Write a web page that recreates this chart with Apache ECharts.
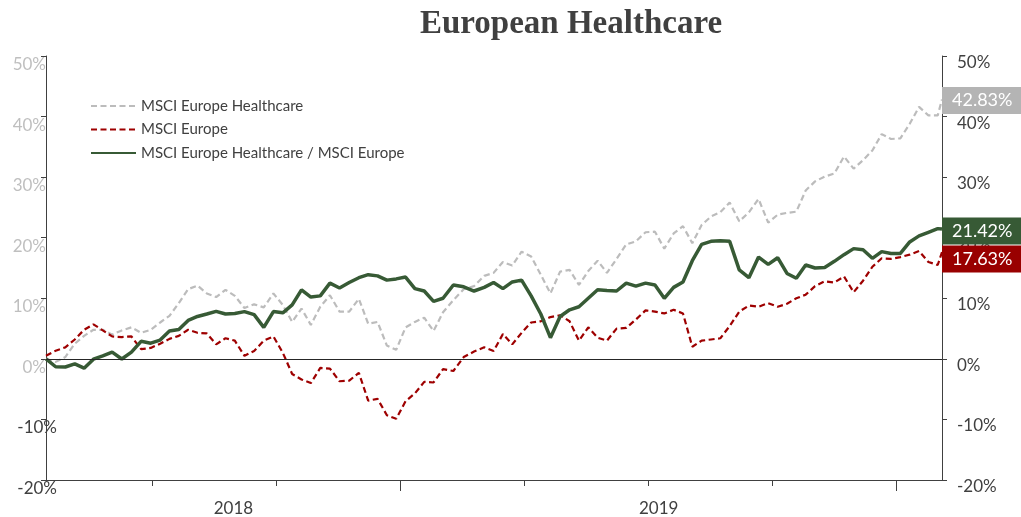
<!DOCTYPE html>
<html>
<head>
<meta charset="utf-8">
<title>European Healthcare</title>
<script src="https://cdn.jsdelivr.net/npm/echarts@6/dist/echarts.min.js"></script>
<style>
  html, body { margin: 0; padding: 0; background: #fff; }
  #chart { width: 1021px; height: 517px; }
</style>
</head>
<body>
<div id="chart"></div>
<script>
const dates = [
  '2018-04-14','2018-04-21','2018-04-28','2018-05-05','2018-05-12','2018-05-19','2018-05-26','2018-06-02','2018-06-09','2018-06-16',
  '2018-06-23','2018-06-30','2018-07-07','2018-07-14','2018-07-21','2018-07-28','2018-08-04','2018-08-11','2018-08-18','2018-08-25',
  '2018-09-01','2018-09-08','2018-09-15','2018-09-22','2018-09-29','2018-10-06','2018-10-13','2018-10-20','2018-10-27','2018-11-03',
  '2018-11-10','2018-11-17','2018-11-24','2018-12-01','2018-12-08','2018-12-15','2018-12-22','2018-12-29','2019-01-05','2019-01-12',
  '2019-01-19','2019-01-26','2019-02-02','2019-02-09','2019-02-16','2019-02-23','2019-03-02','2019-03-09','2019-03-16','2019-03-23',
  '2019-03-30','2019-04-06','2019-04-13','2019-04-20','2019-04-27','2019-05-04','2019-05-11','2019-05-18','2019-05-25','2019-06-01',
  '2019-06-08','2019-06-15','2019-06-22','2019-06-29','2019-07-06','2019-07-13','2019-07-20','2019-07-27','2019-08-03','2019-08-10',
  '2019-08-17','2019-08-24','2019-08-31','2019-09-07','2019-09-14','2019-09-21','2019-09-28','2019-10-05','2019-10-12','2019-10-19',
  '2019-10-26','2019-11-02','2019-11-09','2019-11-16','2019-11-23','2019-11-30','2019-12-07','2019-12-14','2019-12-21','2019-12-28',
  '2020-01-04','2020-01-11','2020-01-18','2020-01-25','2020-02-01','2020-02-04'
];

// MSCI Europe Healthcare (%)
const healthcare = [
  0.0, -0.5, 0.3, 2.5, 3.8, 4.8, 4.8, 4.0, 4.7, 5.2,
  4.3, 4.8, 6.0, 7.1, 9.2, 11.5, 12.1, 10.8, 10.2, 11.4,
  10.4, 8.4, 9.0, 8.5, 10.8, 8.9, 6.1, 8.3, 5.6, 8.6,
  10.5, 7.8, 7.8, 9.9, 5.8, 6.1, 2.2, 1.5, 5.2, 6.1,
  6.8, 4.6, 7.7, 9.7, 11.5, 12.0, 13.7, 14.2, 16.0, 15.4,
  17.7, 16.9, 13.9, 10.8, 14.4, 14.7, 12.2, 14.5, 16.2, 14.2,
  16.5, 18.9, 19.4, 20.9, 21.0, 18.2, 20.7, 21.9, 19.1, 22.1,
  23.5, 24.2, 25.8, 22.7, 24.2, 26.4, 22.5, 23.8, 24.1, 24.3,
  27.8, 29.3, 30.1, 30.6, 33.4, 31.4, 32.8, 34.4, 37.1, 36.3,
  36.4, 38.8, 41.6, 40.2, 40.2, 42.83
];

// MSCI Europe (%)
const europe = [
  0.5, 1.35, 1.9, 3.2, 4.8, 5.7, 4.7, 3.7, 3.6, 3.7,
  1.6, 1.8, 2.5, 3.3, 3.8, 4.8, 4.3, 4.2, 2.4, 3.4,
  3.0, 0.5, 1.3, 3.0, 3.7, 1.0, -2.5, -3.4, -4.0, -1.5,
  -1.6, -3.7, -3.6, -2.3, -6.9, -6.6, -9.3, -9.9, -7.0, -5.7,
  -3.8, -3.9, -1.7, -2.0, 0.3, 1.2, 1.9, 1.3, 4.1, 2.4,
  4.3, 6.0, 6.2, 6.9, 7.2, 6.2, 3.0, 5.2, 3.5, 3.0,
  5.0, 5.1, 6.5, 8.0, 7.8, 7.5, 8.1, 7.5, 2.0, 3.0,
  3.2, 3.4, 5.4, 7.8, 8.8, 8.6, 9.2, 8.6, 9.1, 10.0,
  10.6, 12.0, 12.8, 12.6, 13.6, 11.0, 12.9, 15.2, 16.6, 16.5,
  16.8, 17.2, 17.8, 16.0, 15.5, 17.63
];

// MSCI Europe Healthcare / MSCI Europe (%)
const relative = [
  0.0, -1.3, -1.35, -0.83, -1.54, -0.05, 0.5, 1.1, -0.03, 1.1,
  2.9, 2.59, 3.1, 4.6, 4.85, 6.35, 7.0, 7.4, 7.85, 7.4,
  7.5, 7.8, 7.3, 5.2, 7.81, 7.6, 8.9, 11.4, 10.2, 10.4,
  12.5, 11.7, 12.6, 13.4, 13.9, 13.7, 13.0, 13.2, 13.5, 11.6,
  11.2, 9.5, 10.0, 12.2, 11.9, 11.2, 11.8, 12.6, 11.6, 12.7,
  13.0, 10.4, 7.4, 3.5, 7.0, 8.1, 8.6, 10.0, 11.4, 11.3,
  11.2, 12.5, 12.0, 12.5, 12.2, 10.0, 11.8, 12.7, 16.2, 18.9,
  19.4, 19.5, 19.4, 14.7, 13.4, 16.8, 15.6, 16.7, 14.1, 13.3,
  15.5, 15.0, 15.1, 16.1, 17.2, 18.2, 18.0, 16.6, 17.7, 17.4,
  17.4, 19.3, 20.3, 20.9, 21.5, 21.42
];

const seriesNames = ['MSCI Europe Healthcare', 'MSCI Europe', 'MSCI Europe Healthcare / MSCI Europe'];
const quarterStarts = ['2018-07-01','2018-10-01','2019-01-01','2019-04-01','2019-07-01','2019-10-01','2020-01-01'];
const yearStarts = ['2019-01-01', '2020-01-01'];
const yearLabels = ['2018', '2019'];

const FONT = 'Lato';
const DARK = '#404040';
const GREY = '#bcbcbc';
const RED = '#9e0000';
const GREEN = '#375a35';

// date string -> fractional months since 2018-01
const toMonths = (s) => {
  const [y, m, d] = s.split('-').map(Number);
  const dim = new Date(y, m, 0).getDate();
  return (y - 2018) * 12 + (m - 1) + (d - 1) / dim;
};

const xMin = toMonths(dates[0]);
const xMax = toMonths(dates[dates.length - 1]);
const yearTicks = yearStarts.map(toMonths);
// year label sits in the middle of the visible part of that year
const yearLabelPos = [ (xMin + yearTicks[0]) / 2 + 0.25, (yearTicks[0] + yearTicks[1]) / 2 + 0.25 ];

const toPoints = (vals) => dates.map((d, i) => [toMonths(d), vals[i]]);

const endLabel = (bg, dy) => ({
  show: true,
  distance: 0,
  offset: [0, dy],
  formatter: (p) => p.value[1].toFixed(2) + '%',
  color: '#fff',
  fontFamily: FONT,
  fontSize: 18,
  backgroundColor: bg,
  padding: [5, 2, 4, 10],
  width: 67
});

const chart = echarts.init(document.getElementById('chart'));

const option = {
  animation: false,
  textStyle: { fontFamily: FONT },
  title: {
    text: 'European Healthcare',
    left: 566,
    top: 3,
    textAlign: 'center',
    textStyle: { fontFamily: 'Liberation Serif', fontWeight: 'bold', fontSize: 33, color: DARK }
  },
  legend: {
    orient: 'vertical',
    left: 90,
    top: 97,
    padding: 0,
    itemWidth: 45,
    itemHeight: 14,
    itemGap: 5.5,
    itemStyle: { opacity: 0 },
    textStyle: { fontFamily: FONT, fontSize: 15, color: DARK, lineHeight: 18 },
    data: seriesNames
  },
  grid: { left: 46, right: 79, top: 56, bottom: 37 },
  xAxis: [
    {
      type: 'value',
      min: xMin,
      max: xMax,
      position: 'bottom',
      splitLine: { show: false },
      axisLine: { onZero: false, lineStyle: { color: DARK, width: 1 } },
      axisTick: { show: true, length: 6, customValues: quarterStarts.map(toMonths), lineStyle: { color: DARK } },
      axisLabel: {
        customValues: yearLabelPos,
        formatter: (v) => {
          const i = yearLabelPos.findIndex((p) => Math.abs(p - v) < 1e-6);
          return i >= 0 ? yearLabels[i] : '';
        },
        color: DARK,
        fontFamily: FONT,
        fontSize: 17,
        margin: 20
      }
    },
    {
      type: 'value',
      min: xMin,
      max: xMax,
      position: 'bottom',
      splitLine: { show: false },
      axisLine: { show: false, onZero: false },
      axisTick: { show: true, length: 11, customValues: yearTicks, lineStyle: { color: DARK } },
      axisLabel: { show: false }
    }
  ],
  yAxis: [
    {
      type: 'value',
      position: 'left',
      min: -20,
      max: 50,
      interval: 10,
      splitLine: { show: false },
      axisLine: { show: true, lineStyle: { color: DARK, width: 1 } },
      axisTick: { show: true, length: 5, lineStyle: { color: DARK } },
      axisLabel: {
        margin: -11,
        verticalAlign: 'top',
        lineHeight: 17,
        formatter: (v) => (v < 0 ? '{n|' + v + '%}' : '{p|' + v + '%}'),
        rich: {
          p: { color: '#bfbfbf', fontFamily: FONT, fontSize: 17, lineHeight: 17, padding: [0, 11, 0, 0] },
          n: { color: DARK, fontFamily: FONT, fontSize: 17, lineHeight: 17 }
        }
      }
    },
    {
      type: 'value',
      position: 'right',
      min: -20,
      max: 50,
      interval: 10,
      splitLine: { show: false },
      axisLine: { show: true, lineStyle: { color: DARK, width: 1 } },
      axisTick: { show: true, length: 5, lineStyle: { color: DARK } },
      axisLabel: {
        margin: 15,
        verticalAlign: 'top',
        lineHeight: 13,
        formatter: '{value}%',
        color: DARK,
        fontFamily: FONT,
        fontSize: 17
      }
    }
  ],
  series: [
    {
      name: seriesNames[0],
      type: 'line',
      data: toPoints(healthcare),
      symbol: 'none',
      itemStyle: { color: GREY },
      lineStyle: { color: GREY, width: 2.2, type: [6, 3.5] },
      endLabel: endLabel('#b4b4b4', 1),
      markLine: {
        silent: true,
        symbol: 'none',
        label: { show: false },
        lineStyle: { color: '#262626', width: 1, type: 'solid' },
        data: [{ yAxis: 0 }]
      }
    },
    {
      name: seriesNames[1],
      type: 'line',
      data: toPoints(europe),
      symbol: 'none',
      itemStyle: { color: RED },
      lineStyle: { color: RED, width: 2.2, type: [6, 3.5] },
      endLabel: endLabel('#990000', 7)
    },
    {
      name: seriesNames[2],
      type: 'line',
      data: toPoints(relative),
      symbol: 'none',
      itemStyle: { color: GREEN },
      lineStyle: { color: GREEN, width: 3.5 },
      endLabel: endLabel(GREEN, 2)
    }
  ]
};

chart.setOption(option);
</script>
</body>
</html>
